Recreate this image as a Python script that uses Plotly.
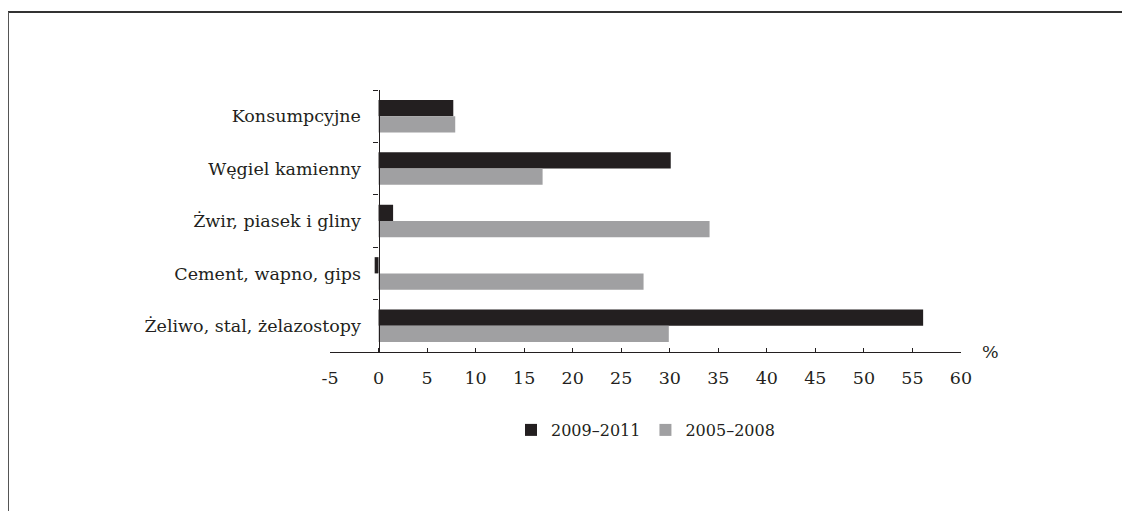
import plotly.graph_objects as go

categories = ["Konsumpcyjne", "Węgiel kamienny", "Żwir, piasek i gliny",
              "Cement, wapno, gips", "Żeliwo, stal, żelazostopy"]
series_2009_2011 = [7.7, 30.1, 1.5, -0.4, 56.1]
series_2005_2008 = [7.9, 16.9, 34.1, 27.3, 29.9]
x_ticks = [-5, 0, 5, 10, 15, 20, 25, 30, 35, 40, 45, 50, 55, 60]
x_range = [-5, 60]

W, H = 1130, 511
OFF = 8  # page body offset
ML, MT = 330 - OFF, 90 - OFF
pw, ph = 631, 262
MR = W - ML - pw
MB = H - MT - ph
FONT = "DejaVu Serif"
FS = 17.5

fig = go.Figure()
fig.add_trace(go.Bar(y=categories, x=series_2009_2011, orientation="h",
                     name="2009–2011", marker=dict(color="#231f20", line=dict(width=0))))
fig.add_trace(go.Bar(y=categories, x=series_2005_2008, orientation="h",
                     name="2005–2008", marker=dict(color="#a0a0a2", line=dict(width=0))))

zero_pos = (0 - x_range[0]) / (x_range[1] - x_range[0])

fig.update_layout(
    width=W, height=H,
    margin=dict(l=ML, r=MR, t=MT, b=MB),
    paper_bgcolor="white", plot_bgcolor="white",
    font=dict(family=FONT, size=FS, color="#231f20"),
    barmode="group", bargap=0.38, bargroupgap=0,
    xaxis=dict(range=x_range, tickvals=x_ticks, ticktext=[str(v) for v in x_ticks],
               showgrid=False, zeroline=False, showline=True, linecolor="#231f20",
               linewidth=1.2, ticks="inside", ticklen=4, tickcolor="#231f20",
               ticklabelstandoff=10),
    yaxis=dict(autorange="reversed", showgrid=False, zeroline=False, showline=True,
               linecolor="#231f20", linewidth=1.2, ticks="outside", ticklen=5,
               tickcolor="#231f20", tickson="boundaries", anchor="free",
               position=zero_pos, ticklabelstandoff=14),
    legend=dict(orientation="h", x=0.5, xanchor="center", y=-(430 - 352) / ph,
                yanchor="middle", font=dict(size=16), traceorder="normal"),
    showlegend=True,
)

fig.add_annotation(text="%", xref="paper", yref="paper", x=(990 - 330) / pw, y=0,
                   xanchor="center", yanchor="middle", showarrow=False,
                   font=dict(size=FS, family=FONT))

# frame lines (top and left)
top_y = (352 - 12) / ph
left_x = (8 - 330) / pw
fig.add_shape(type="line", xref="paper", yref="paper",
              x0=left_x, x1=(W - ML) / pw, y0=top_y, y1=top_y,
              line=dict(color="#333333", width=2))
fig.add_shape(type="line", xref="paper", yref="paper",
              x0=left_x, x1=left_x, y0=top_y, y1=-(MB + 20) / ph,
              line=dict(color="#555555", width=2))

fig.write_html("out.html")
